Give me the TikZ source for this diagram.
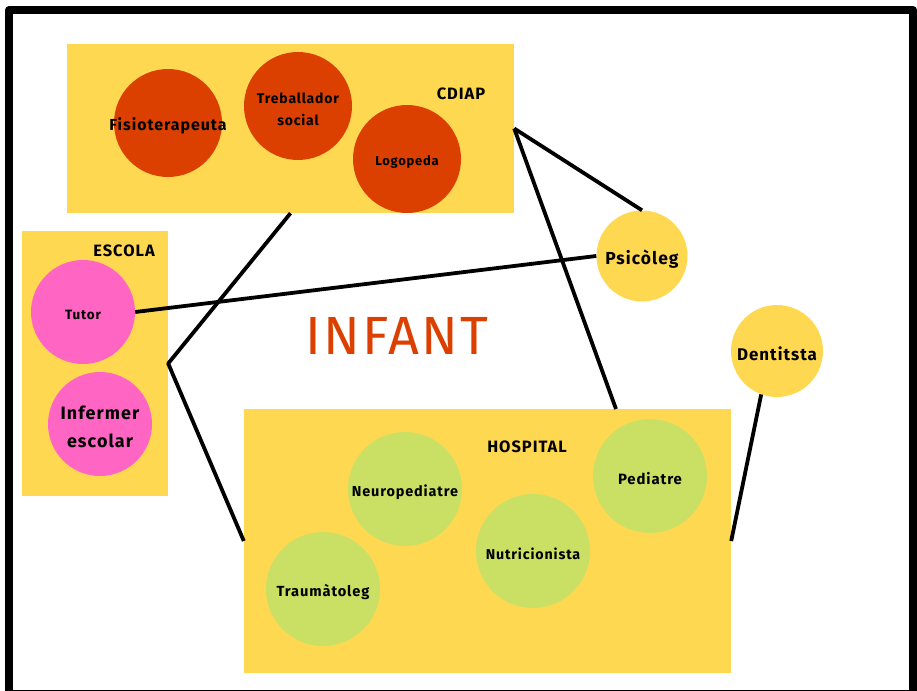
\documentclass[tikz,border=0pt]{standalone}
\usepackage{fontspec}
\setmainfont{Fira Sans}[LetterSpace=6]
\newfontfamily\titol{Fira Sans}[LetterSpace=4]
\definecolor{groc}{HTML}{FFD852}
\definecolor{taronja}{HTML}{DB4000}
\definecolor{rosa}{HTML}{FF66C4}
\definecolor{verd}{HTML}{C9E065}
\begin{document}
\begin{tikzpicture}[x=1bp,y=-1bp,line join=round,
		zona/.style={fill=groc,inner sep=0},
		bola/.style={circle,inner sep=0,fill=#1},
		rotul/.style={font=\bfseries\fontsize{16.5}{20}\selectfont,inner sep=0},
		lligam/.style={line width=3.8bp}]
	\useasboundingbox (0,0) rectangle (917,691);
	\draw[line width=8bp] (9,10) rectangle (913,694);
	\node[zona,minimum width=447bp,minimum height=169bp] (cdiap) at (290.5,128.5) {};
	\node[zona,minimum width=146bp,minimum height=265bp] (escola) at (95,363.5) {};
	\node[zona,minimum width=487bp,minimum height=264bp] (hosp) at (487.5,541) {};
	\node[rotul] (tcdiap) at (461,94) {CDIAP};
	\node[rotul] (tescola) at (124,251) {ESCOLA};
	\node[rotul] (thosp) at (527,447) {HOSPITAL};
	\foreach \n/\x/\y/\c/\d/\s/\b/\t in {
		fisio/168/123/taronja/108bp/16/20/Fisioterapeuta,
		treb/298/106/taronja/108bp/14/22/{Treballador\\social},
		logo/407/159/taronja/108bp/13/20/Logopeda,
		tutor/83/312/rosa/104bp/13.5/20/Tutor,
		inf/100/424/rosa/104bp/18/28/{Infermer\\escolar},
		psic/642/256/groc/91bp/17.5/20/Psicòleg,
		dent/777/351/groc/92bp/17/20/Dentitsta,
		neuro/405/489/verd/114bp/14.5/20/Neuropediatre,
		pedi/650/476/verd/114bp/15/20/Pediatre,
		nutri/533/551/verd/114bp/14.3/20/Nutricionista,
		trauma/323/589/verd/114bp/14.7/20/Traumàtoleg}
		\node[bola=\c,minimum size=\d,label={[align=center,inner sep=0,yshift=-3bp,font=\bfseries\fontsize{\s}{\b}\selectfont]center:\t}] (\n) at (\x,\y) {};
	\node[text=taronja,font=\titol\fontsize{54}{54}\selectfont] (infant) at (397,336) {INFANT};
	\path (616,409) coordinate (hsup);
	\draw[lligam] (cdiap.south) -- (escola.east) -- (hosp.west);
	\draw[lligam] (cdiap.east) -- (psic.north);
	\draw[lligam] (cdiap.east) -- (hsup);
	\draw[lligam] (tutor.east) -- (psic.west);
	\draw[lligam] (dent.250) -- (hosp.east);
\end{tikzpicture}
\end{document}
